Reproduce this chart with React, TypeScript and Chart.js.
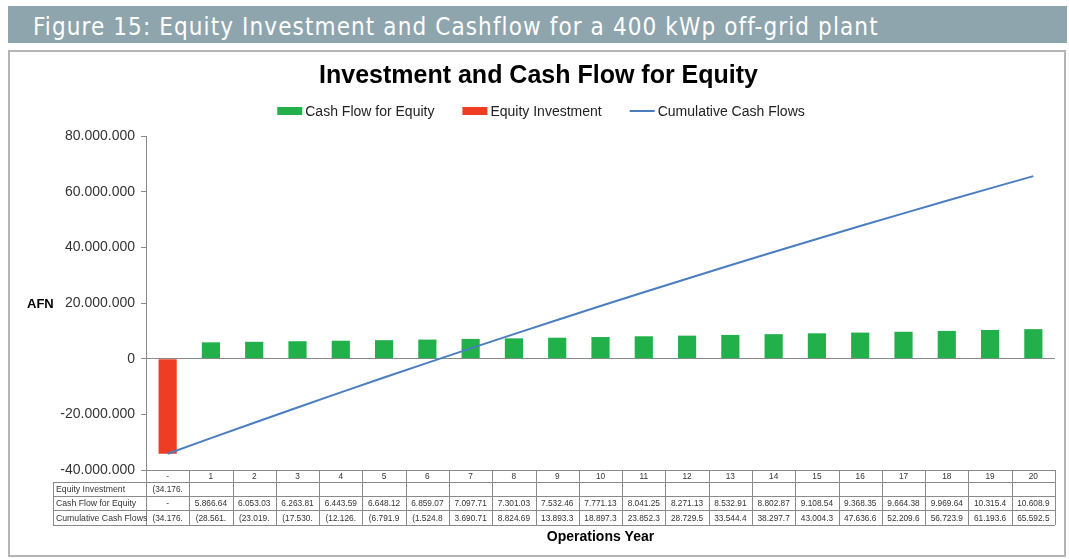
import React, { useEffect, useRef } from "react";
import { Chart, registerables } from "chart.js";

Chart.register(...registerables);

const categories: string[] = ["-", "1", "2", "3", "4", "5", "6", "7", "8", "9", "10", "11", "12", "13", "14", "15", "16", "17", "18", "19", "20"];

const equityInvestment: (number | null)[] = [-34176000, null, null, null, null, null, null, null, null, null, null, null, null, null, null, null, null, null, null, null, null];

const cashFlowForEquity: number[] = [0, 5866640, 6053030, 6263810, 6443590, 6648120, 6859070, 7097710, 7301030, 7532460, 7771130, 8041250, 8271130, 8532910, 8802870, 9108540, 9368350, 9664380, 9969640, 10315400, 10608900];

const cumulativeCashFlows: number[] = [-34176000, -28561000, -23019000, -17530000, -12126000, -6791900, -1524800, 3690710, 8824690, 13893300, 18897300, 23852300, 28729500, 33544400, 38297700, 43004300, 47636600, 52209600, 56723900, 61193600, 65592500];

const yTickValues: number[] = [-40000000, -20000000, 0, 20000000, 40000000, 60000000, 80000000];

const seriesNames = ["Cash Flow for Equity", "Equity Investment", "Cumulative Cash Flows"];

const GREEN = "#22b04b";
const RED = "#ee3d23";
const BLUE = "#4a7ebf";
const FONT = "'Liberation Sans', Arial, sans-serif";

function dotThousands(v: number): string {
  const s = Math.round(Math.abs(v)).toString();
  return s.replace(/\B(?=(\d{3})+(?!\d))/g, ".");
}

function tickFmt(v: number): string {
  if (v === 0) return "0";
  return (v < 0 ? "-" : "") + dotThousands(v);
}

// Excel-like accounting cell text, clipped to the narrow cell width (8 chars)
function cellFmt(v: number | null): string {
  if (v === null || v === undefined) return "";
  if (v === 0) return "-";
  const s = v < 0 ? "(" + dotThousands(v) + ")" : dotThousands(v);
  return s.length > 8 ? s.slice(0, 8) : s;
}

const customPlugin = {
  id: "customDecor",
  afterDraw(chart: any) {
    const ctx: CanvasRenderingContext2D = chart.ctx;
    const ca = chart.chartArea;
    const xs = chart.scales.x;
    const ys = chart.scales.y;

    ctx.save();
    // Title
    ctx.fillStyle = "#000";
    ctx.font = `bold 25px ${FONT}`;
    ctx.textAlign = "center";
    ctx.textBaseline = "middle";
    ctx.fillText("Investment and Cash Flow for Equity", 538.5, 76);

    // Legend
    ctx.font = `14px ${FONT}`;
    const boxW = 25, gap = 3, itemGap = 28;
    const widths = seriesNames.map((n) => boxW + gap + ctx.measureText(n).width);
    const total = widths.reduce((a, b) => a + b, 0) + itemGap * (widths.length - 1);
    let lx = 541 - total / 2;
    const ly = 111;
    const colors = [GREEN, RED, BLUE];
    seriesNames.forEach((n, i) => {
      ctx.fillStyle = colors[i];
      if (i < 2) {
        ctx.fillRect(lx, ly - 4, boxW, 8);
      } else {
        ctx.fillRect(lx, ly - 1, boxW, 2);
      }
      ctx.fillStyle = "#222";
      ctx.textAlign = "left";
      ctx.fillText(n, lx + boxW + gap, ly + 1);
      lx += widths[i] + itemGap;
    });

    // AFN label
    ctx.font = `bold 13px ${FONT}`;
    ctx.fillStyle = "#000";
    ctx.textAlign = "left";
    ctx.fillText("AFN", 27, ys.getPixelForValue(20000000) + 1);

    // Data table
    const n = categories.length;
    const colW = (ca.right - ca.left) / n;
    const top = Math.round(ca.bottom);
    const rowsY = [top, top + 12, top + 26, top + 40, top + 55];
    const labelLeft = 53;
    ctx.strokeStyle = "#8a8a8a";
    ctx.lineWidth = 1;
    ctx.beginPath();
    ctx.moveTo(ca.left, rowsY[0] + 0.5);
    ctx.lineTo(ca.right, rowsY[0] + 0.5);
    for (let r = 1; r < rowsY.length; r++) {
      ctx.moveTo(labelLeft, rowsY[r] + 0.5);
      ctx.lineTo(ca.right, rowsY[r] + 0.5);
    }
    ctx.moveTo(labelLeft + 0.5, rowsY[1]);
    ctx.lineTo(labelLeft + 0.5, rowsY[4]);
    for (let i = 0; i <= n; i++) {
      const xx = Math.round(ca.left + i * colW) + 0.5;
      ctx.moveTo(xx, rowsY[0]);
      ctx.lineTo(xx, rowsY[4]);
    }
    ctx.stroke();

    ctx.fillStyle = "#333";
    ctx.font = `8.3px ${FONT}`;
    ctx.textAlign = "center";
    const rowsData: string[][] = [
      categories,
      equityInvestment.map(cellFmt),
      cashFlowForEquity.map(cellFmt),
      cumulativeCashFlows.map(cellFmt),
    ];
    rowsData.forEach((row, r) => {
      const cy = (rowsY[r] + rowsY[r + 1]) / 2 + 1;
      row.forEach((t, i) => {
        ctx.fillText(t, xs.getPixelForValue(i), cy);
      });
    });
    ctx.textAlign = "left";
    ctx.font = `8.7px ${FONT}`;
    const rowLabels = ["Equity Investment", "Cash Flow for Equity", "Cumulative Cash Flows"];
    rowLabels.forEach((t, k) => {
      const cy = (rowsY[k + 1] + rowsY[k + 2]) / 2 + 1;
      ctx.fillText(t, labelLeft + 3, cy);
    });

    // X axis title
    ctx.font = `bold 14px ${FONT}`;
    ctx.fillStyle = "#000";
    ctx.textAlign = "center";
    ctx.fillText("Operations Year", (ca.left + ca.right) / 2, 537);
    ctx.restore();
  },
};

export default function App() {
  const ref = useRef<HTMLCanvasElement | null>(null);

  useEffect(() => {
    if (!ref.current) return;
    const chart = new Chart(ref.current, {
      type: "bar",
      data: {
        labels: categories,
        datasets: [
          {
            type: "line",
            label: seriesNames[2],
            data: cumulativeCashFlows,
            borderColor: BLUE,
            backgroundColor: BLUE,
            borderWidth: 2,
            pointRadius: 0,
            tension: 0,
            order: 0,
          } as any,
          {
            label: seriesNames[0],
            data: cashFlowForEquity,
            backgroundColor: GREEN,
            barPercentage: 0.42,
            categoryPercentage: 1,
            order: 1,
          },
          {
            label: seriesNames[1],
            data: equityInvestment,
            backgroundColor: RED,
            barPercentage: 0.42,
            categoryPercentage: 1,
            order: 2,
          },
        ],
      },
      options: {
        animation: false,
        responsive: false,
        devicePixelRatio: 1,
        layout: { padding: { top: 136, right: 14, bottom: 0, left: 0 } },
        plugins: {
          legend: { display: false },
          title: { display: false },
          tooltip: { enabled: false },
        },
        scales: {
          x: {
            stacked: true,
            ticks: { display: false },
            grid: { display: false },
            border: { display: false },
            afterFit: (s: any) => {
              s.height = 89;
            },
          },
          y: {
            stacked: true,
            min: -40000000,
            max: 80000000,
            afterBuildTicks: (s: any) => {
              s.ticks = yTickValues.map((v) => ({ value: v }));
            },
            afterFit: (s: any) => {
              s.width = 146;
            },
            ticks: {
              callback: (v: any) => tickFmt(Number(v)),
              font: { family: FONT, size: 14 },
              color: "#333",
              padding: 6,
            },
            grid: {
              color: (c: any) => (c.tick && c.tick.value === 0 ? "#8a8a8a" : "rgba(0,0,0,0)"),
              tickColor: "#8a8a8a",
              tickLength: 5,
              lineWidth: 1,
            },
            border: { display: true, color: "#8a8a8a", width: 1 },
          },
        },
      },
      plugins: [customPlugin],
    });
    return () => chart.destroy();
  }, []);

  return (
    <div style={{ position: "fixed", left: 0, top: 0, width: 1069, height: 559, background: "#fff", overflow: "hidden" }}>
      <div
        style={{
          position: "absolute",
          left: 8,
          top: 6,
          width: 1059,
          height: 37,
          background: "#8fa5ae",
          color: "#fff",
          fontFamily: "'DejaVu Sans Condensed', 'Liberation Sans Narrow', sans-serif",
          fontSize: 24,
          letterSpacing: "1.1px",
          lineHeight: "42px",
          paddingLeft: 25,
          boxSizing: "border-box",
          whiteSpace: "nowrap",
          overflow: "hidden",
        }}
      >
        Figure 15: Equity Investment and Cashflow for a 400 kWp off-grid plant
      </div>
      <div
        style={{
          position: "absolute",
          left: 8,
          top: 50,
          width: 1058,
          height: 507,
          border: "2px solid #b4b4b4",
          boxSizing: "border-box",
        }}
      />
      <canvas ref={ref} width={1069} height={559} style={{ position: "absolute", left: 0, top: 0, width: 1069, height: 559 }} />
    </div>
  );
}
